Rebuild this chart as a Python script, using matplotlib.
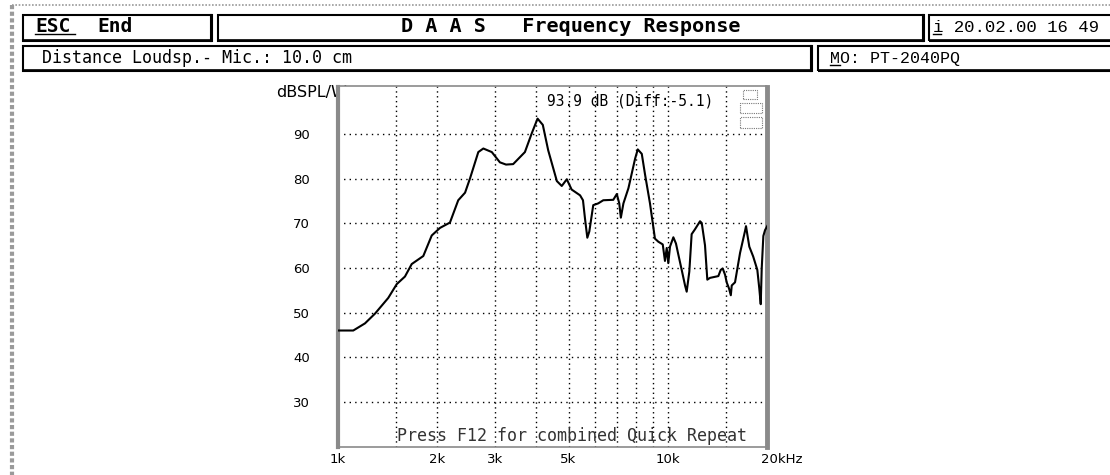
import matplotlib
matplotlib.use("Agg")
import matplotlib.pyplot as plt
from matplotlib.patches import Rectangle
from matplotlib.lines import Line2D
import matplotlib.transforms as mtransforms

# ---------------- data ----------------
freq_khz = [1.000, 1.116, 1.211, 1.299, 1.424, 1.511, 1.600, 1.677, 1.818, 1.928,
            2.042, 2.189, 2.319, 2.432, 2.520, 2.667, 2.762, 2.930, 3.100, 3.235,
            3.400, 3.690, 3.870, 4.030, 4.180, 4.340, 4.610, 4.770, 4.940, 5.110,
            5.420, 5.530, 5.610, 5.700, 5.780, 5.940, 6.150, 6.370, 6.830, 7.000,
            7.120, 7.200, 7.330, 7.590, 7.950, 8.100, 8.330, 8.520, 8.820, 9.130,
            9.350, 9.640, 9.790, 9.910, 10.02, 10.14, 10.38, 10.57, 10.74, 11.00,
            11.26, 11.39, 11.60, 11.79, 12.07, 12.50, 12.65, 12.94, 13.15, 13.40,
            14.20, 14.44, 14.64, 14.88, 15.05, 15.30, 15.49, 15.59, 15.95, 16.52,
            17.10, 17.22, 17.38, 17.62, 18.10, 18.63, 18.89, 19.08, 19.21, 19.43,
            19.66, 20.00]
spl_db = [46.0, 46.0, 47.6, 49.8, 53.3, 56.4, 58.1, 60.9, 62.7, 67.3,
          69.0, 70.2, 75.2, 76.9, 80.2, 86.0, 86.8, 86.0, 83.7, 83.2,
          83.3, 86.0, 90.2, 93.5, 92.1, 86.4, 79.5, 78.4, 79.9, 77.6,
          76.3, 75.2, 71.0, 66.8, 68.2, 74.1, 74.5, 75.2, 75.3, 76.6,
          74.5, 71.3, 74.5, 77.9, 84.5, 86.6, 85.6, 81.0, 74.5, 66.6,
          65.9, 65.3, 61.6, 64.5, 61.1, 64.8, 66.9, 65.5, 63.1, 59.6,
          56.1, 54.7, 59.2, 67.6, 68.7, 70.5, 70.1, 65.1, 57.4, 57.8,
          58.2, 59.6, 59.9, 58.5, 56.8, 55.4, 53.9, 56.1, 56.8, 63.4,
          68.3, 69.4, 67.5, 64.8, 62.6, 59.6, 55.4, 51.9, 59.9, 67.2,
          68.5, 69.5]

xtick_hz = [1000, 2000, 3000, 5000, 10000, 20000]
xtick_labels = ["1k", "2k", "3k", "5k", "10k", "20kHz"]
vgrid_hz = [1500, 2000, 3000, 4000, 5000, 6000, 7000, 8000, 9000, 10000, 15000]
ytick_db = [30, 40, 50, 60, 70, 80, 90]

title_text = "D A A S   Frequency Response"
info_text = "Distance Loudsp.- Mic.: 10.0 cm"
model_text = "MO: PT-2040PQ"
date_text = "i 20.02.00 16 49"
cursor_text = "93.9 dB (Diff:-5.1)"
hint_text = "Press F12 for combined Quick Repeat"
ylabel_text = "dBSPL/W"

# ---------------- figure ----------------
W, H = 1110, 475
fig = plt.figure(figsize=(W / 100, H / 100), dpi=100)
fig.patch.set_facecolor("white")


def fx(x):
    return x / W


def fy(y):
    return 1 - y / H


def box(x0, y0, x1, y1):
    r = Rectangle((fx(x0), fy(y1)), fx(x1) - fx(x0), fy(y0) - fy(y1),
                  transform=fig.transFigure, fill=False, edgecolor="black",
                  linewidth=1.5, clip_on=False)
    fig.add_artist(r)
    fig.add_artist(Line2D([fx(x1 - 1), fx(x1 - 1)], [fy(y0), fy(y1)],
                          transform=fig.transFigure, color="black", linewidth=1.5))
    fig.add_artist(Line2D([fx(x0), fx(x1)], [fy(y1 - 1), fy(y1 - 1)],
                          transform=fig.transFigure, color="black", linewidth=1.2))


# outer gray frame
fig.add_artist(Line2D([fx(12), fx(1110)], [fy(5), fy(5)], transform=fig.transFigure,
                      color="#9a9a9a", linewidth=1.2, linestyle=(0, (1, 1))))
fig.add_artist(Line2D([fx(12), fx(12)], [fy(5), fy(475)], transform=fig.transFigure,
                      color="#9a9a9a", linewidth=3.0, linestyle=(0, (1, 0.6))))

# header row 1
box(23, 15, 212, 41)
box(218, 15, 924, 41)
box(929, 15, 1116, 41)
# header row 2
box(23, 46, 812, 71)
box(818, 46, 1116, 71)

mono = "DejaVu Sans Mono"
fig.text(fx(35), fy(27), "ESC", family=mono, weight="bold", fontsize=14,
         va="center", ha="left")
fig.add_artist(Line2D([fx(35), fx(75)], [fy(34), fy(34)], transform=fig.transFigure,
                      color="black", linewidth=1.0))
fig.text(fx(97), fy(27), "End", family=mono, weight="bold", fontsize=14,
         va="center", ha="left")
fig.text(fx(571), fy(27), title_text, family=mono, weight="bold", fontsize=14.5,
         va="center", ha="center")
fig.text(fx(933), fy(27), date_text, family="Liberation Mono", fontsize=12.5,
         va="center", ha="left")
fig.add_artist(Line2D([fx(933), fx(941)], [fy(34), fy(34)], transform=fig.transFigure,
                      color="black", linewidth=1.0))
fig.text(fx(42), fy(58), info_text, family=mono, fontsize=12, va="center", ha="left")
fig.text(fx(830), fy(58), model_text, family="Liberation Mono", fontsize=12,
         va="center", ha="left")
fig.add_artist(Line2D([fx(830), fx(840)], [fy(65), fy(65)], transform=fig.transFigure,
                      color="black", linewidth=1.0))

# ---------------- plot ----------------
ax_l, ax_r, ax_t, ax_b = 337.5, 767.5, 86.5, 446.5
ax = fig.add_axes([fx(ax_l), fy(ax_b), (ax_r - ax_l) / W, (ax_b - ax_t) / H])
ax.set_facecolor("white")
ax.set_xscale("log")
ax.set_xlim(1000, 20000)
ax.set_ylim(20, 100.7)

for f in vgrid_hz:
    ax.axvline(f, color="black", linewidth=1.0, linestyle=(0, (1, 2.5)), zorder=1)
for d in ytick_db:
    ax.axhline(d, color="black", linewidth=1.0, linestyle=(0, (1, 3)), zorder=1)

ax.plot([f * 1000 for f in freq_khz], spl_db, color="black", linewidth=1.5, zorder=3)

ax.set_xticks(xtick_hz)
ax.set_xticklabels(xtick_labels)
ax.xaxis.set_minor_locator(matplotlib.ticker.NullLocator())
ax.set_yticks(ytick_db)
ax.set_yticklabels([str(v) for v in ytick_db])
ax.tick_params(axis="both", length=0, labelsize=9.5)
ax.tick_params(axis="y", pad=20)
ax.tick_params(axis="x", pad=5)
lbls = ax.get_xticklabels()
lbls[-1].set_transform(lbls[-1].get_transform() +
                       mtransforms.ScaledTranslation(14 / 100, 0, fig.dpi_scale_trans))

for side in ["left", "right"]:
    ax.spines[side].set_color("#8a8a8a")
    ax.spines[side].set_linewidth(3.0)
ax.spines["right"].set_linewidth(3.5)
for side in ["top", "bottom"]:
    ax.spines[side].set_color("#8a8a8a")
    ax.spines[side].set_linewidth(1.2)
    ax.spines[side].set_linestyle((0, (1, 1)))

# y-axis unit label, partly hidden behind plot area
fig.text(fx(347), fy(93), ylabel_text, fontsize=11.5, va="center", ha="right", zorder=-1)

# cursor readout
ax.text(0.487, 0.96, cursor_text, transform=ax.transAxes, family=mono, fontsize=10.5,
        va="center", ha="left", zorder=4)
# hint line at bottom
ax.text(0.139, 0.005, hint_text, transform=ax.transAxes, family=mono, fontsize=12,
        color="#333333", va="bottom", ha="left", zorder=4)

# small icon in the corner (dotted)
for (x0, y0, x1, y1) in [(743, 90, 757, 99), (740, 103, 762, 113), (740, 117, 762, 128)]:
    r = Rectangle((fx(x0), fy(y1)), fx(x1) - fx(x0), fy(y0) - fy(y1),
                  transform=fig.transFigure, fill=False, edgecolor="#777777",
                  linewidth=0.8, linestyle=(0, (1, 1)))
    fig.add_artist(r)

fig.savefig("out.png", dpi=100)
